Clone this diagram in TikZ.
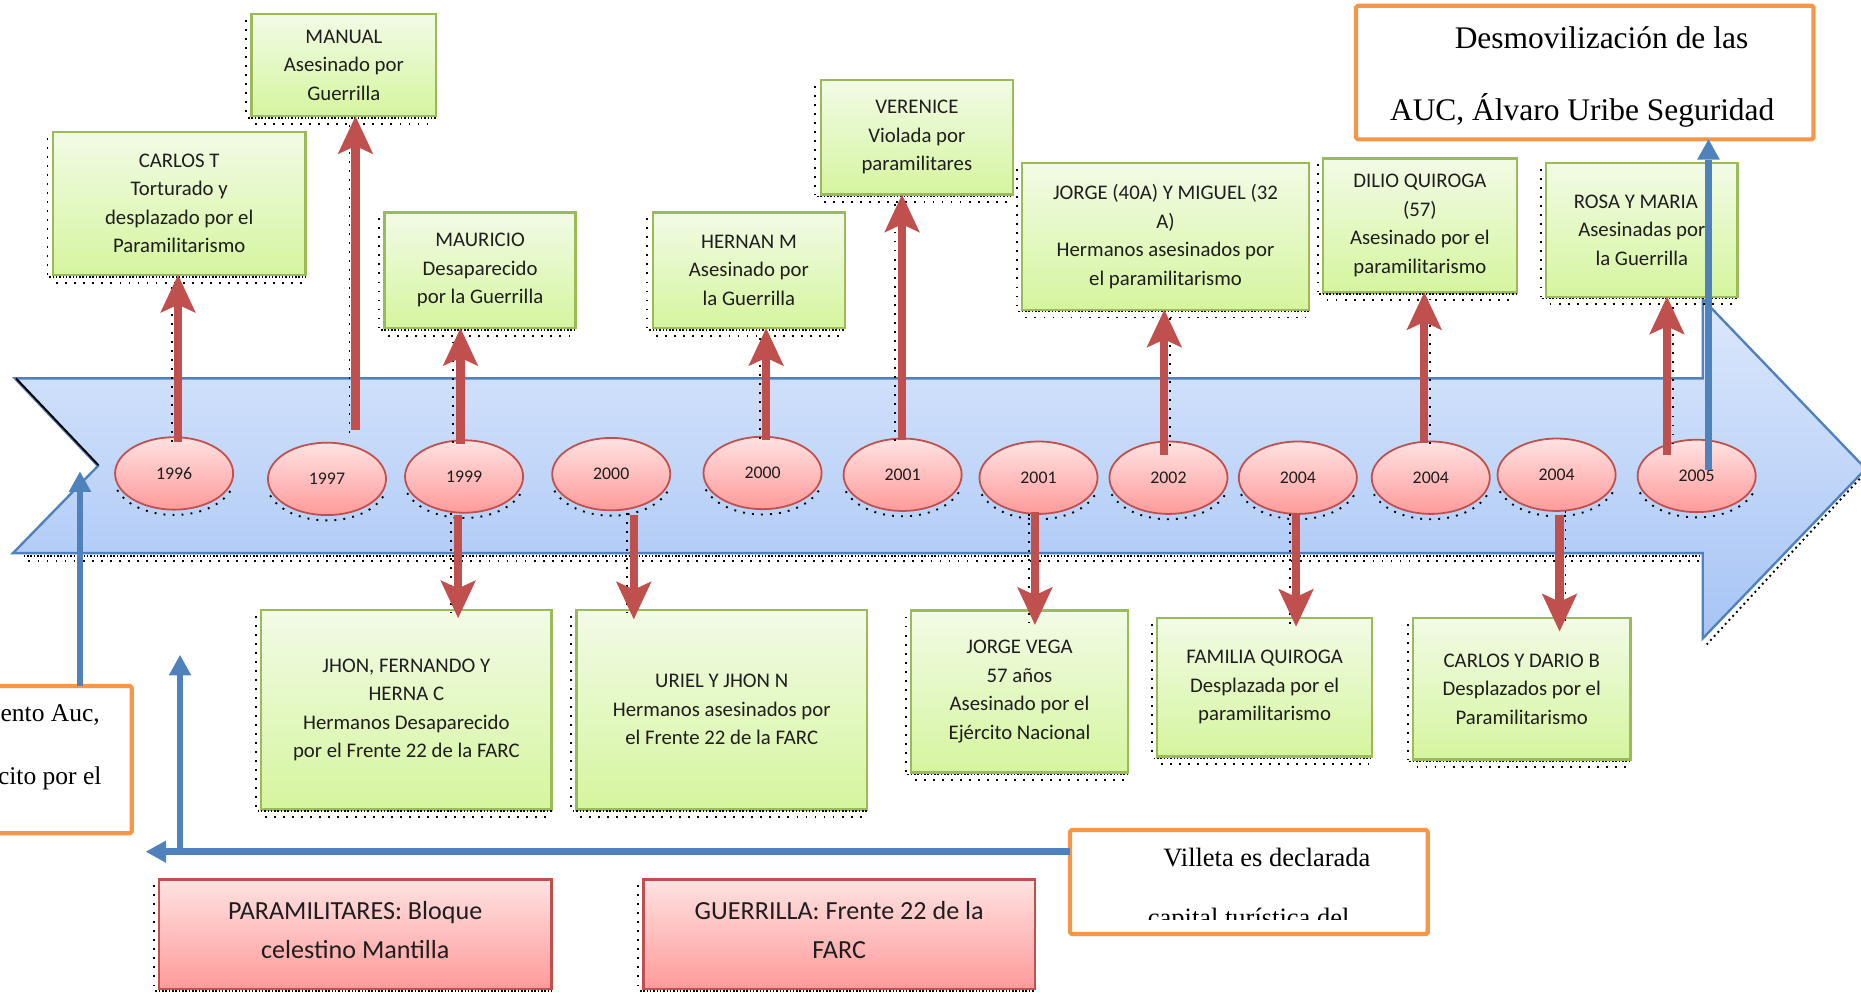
\documentclass[tikz,border=0pt]{standalone}
\usepackage{fontspec}
\setmainfont{Liberation Serif}
\newfontfamily\calib{Carlito}
\usetikzlibrary{arrows.meta,calc,shapes.geometric}
\definecolor{bandborder}{HTML}{4F81BD}
\definecolor{bandtop}{HTML}{DCE8FC}
\definecolor{bandbot}{HTML}{A6C4F5}
\definecolor{greenborder}{HTML}{9BBB59}
\definecolor{greentop}{HTML}{F2FBE6}
\definecolor{greenbot}{HTML}{D5F59E}
\definecolor{redborder}{HTML}{C0504D}
\definecolor{redtop}{HTML}{FFE2E2}
\definecolor{redbot}{HTML}{FF9A9A}
\definecolor{orangeborder}{HTML}{F79646}
\definecolor{arrowred}{HTML}{C0504D}
\definecolor{bluecon}{HTML}{4F81BD}
\definecolor{txt}{HTML}{1E1E1E}
\tikzset{
  wh/.style 2 args={minimum width=#1pt, minimum height=#2pt},
  gbox/.style={draw=greenborder, line width=2pt, top color=greentop, bottom color=greenbot, inner sep=0pt, outer sep=0pt, align=center, text=txt, font=\calib\fontsize{17.5}{24}\selectfont},
  rbox/.style={draw=redborder, line width=2pt, top color=redtop, bottom color=redbot, inner sep=0pt, outer sep=0pt, align=center, text=txt, font=\calib\fontsize{22}{33}\selectfont},
  obox/.style={draw=orangeborder, line width=3.5pt, fill=white, rounded corners=1.5pt, inner sep=0pt, outer sep=0pt},
  yearnode/.style={ellipse, draw=redborder, line width=1.5pt, top color=redtop, bottom color=redbot, minimum width=99.5pt, minimum height=61pt, inner sep=0pt, outer sep=0pt, font=\calib\fontsize{15}{15}\selectfont, text=txt},
  redarrow/.style={draw=arrowred, line width=7pt, -{Stealth[length=32pt,width=30pt,inset=7pt,line width=0pt]}},
  bluearrow/.style={draw=bluecon, line width=5.5pt, -{Triangle[length=17pt,width=19pt,line width=0pt]}},
  sparsedots/.style={draw=black, line width=1.6pt, dash pattern=on 1.6pt off 6pt},
  densedots/.style={draw=black, line width=1.3pt, dash pattern=on 1.3pt off 1.5pt},
  otext/.style={inner sep=0pt, text=black},
}
\newcommand{\boxshadow}[1]{%
  \draw[sparsedots] ([shift={(-4.5,-5)}]#1.north west) -- ([shift={(-4.5,0)}]#1.south west);
  \draw[densedots] ([shift={(-3,-1.5)}]#1.south west) -- ([shift={(0,-1.5)}]#1.south east);
  \draw[sparsedots] ([shift={(3,-6.5)}]#1.south west) -- ([shift={(-3,-6.5)}]#1.south east);
}
\begin{document}
\begin{tikzpicture}[x=1pt,y=1pt]
\useasboundingbox (0,0) rectangle (1568,838);
\clip (0,0) rectangle (1568,838);

% ---- timeline band ----
\draw[densedots] (20,369.5) -- (1432,369.5);
\draw[sparsedots] (24,365) -- (1432,365);
\draw[sparsedots, dash pattern=on 1.6pt off 3pt] (1570,438) -- (1438,295);
\path[draw=bandborder, line width=2pt, top color=bandtop, bottom color=bandbot]
  (12.5,519.2) -- (1434.6,519.2) -- (1434.6,586) -- (1572,443) -- (1434.6,300)
  -- (1434.6,372) -- (11,372) -- (82.5,445.4) -- cycle;
\draw[black, line width=1.6pt] (13.5,519.2) -- (83,446);

% ---- year ellipses ----
\node[yearnode] (e96)  at (146.7,439.1) {1996};
\node[yearnode] (e97)  at (275.5,434.5) {1997};
\node[yearnode] (e99)  at (391,436.5)   {1999};
\node[yearnode] (e00a) at (515,438.5)   {2000};
\node[yearnode] (e00b) at (642.5,439.5) {2000};
\node[yearnode] (e01a) at (760.5,438)   {2001};
\node[yearnode] (e01b) at (875,435.5)   {2001};
\node[yearnode] (e02)  at (984.5,435.5) {2002};
\node[yearnode] (e04a) at (1093.5,435.5) {2004};
\node[yearnode] (e04b) at (1205.5,435.5) {2004};
\node[yearnode] (e04c) at (1311.5,438)  {2004};
\node[yearnode] (e05)  at (1429.5,437)  {2005};
\foreach \n in {e96,e97,e99,e00a,e00b,e01a,e01b,e02,e04a,e04b,e04c,e05}{
  \draw[sparsedots] ($(\n.center)+(200:51pt and 32pt)+(0,-3)$) arc[start angle=200,end angle=340,x radius=51pt,y radius=32pt];
}

% ---- green event boxes (top) ----
\node[gbox, wh={213}{120.7}] (carlos) at (151,666.65) {CARLOS T\\Torturado y\\desplazado por el\\Paramilitarismo};
\node[gbox, wh={155.5}{86}] (manual) at (289.75,783) {MANUAL\\Asesinado por\\Guerrilla};
\node[gbox, wh={161}{97.5}] (mauricio) at (404.5,610.25) {MAURICIO\\Desaparecido\\por la Guerrilla};
\node[gbox, wh={162}{97.5}] (hernan) at (631,610.25) {HERNAN M\\Asesinado por\\la Guerrilla};
\node[gbox, wh={162}{96.6}] (verenice) at (772.5,722.3) {VERENICE\\Violada por\\paramilitares};
\node[gbox, wh={242}{123.4}] (jorge) at (982,638.7) {JORGE (40A) Y MIGUEL (32\\A)\\Hermanos asesinados por\\el paramilitarismo};
\node[gbox, wh={163.3}{112.9}] (dilio) at (1196.35,648.15) {DILIO QUIROGA\\(57)\\Asesinado por el\\paramilitarismo};
\node[gbox, wh={161.4}{112.4}] (rosa) at (1383.3,644.2) {ROSA Y MARIA\hspace*{10pt}\\Asesinadas por\\la Guerrilla};

% ---- green event boxes (bottom) ----
\node[gbox, wh={244.7}{168}] (jhon) at (342.35,240) {JHON, FERNANDO Y\\HERNA C\\Hermanos Desaparecido\\por el Frente 22 de la FARC};
\node[gbox, wh={244.8}{168}] (uriel) at (608.1,240) {URIEL Y JHON N\\Hermanos asesinados por\\el Frente 22 de la FARC};
\node[gbox, wh={182.8}{136.5}] (vega) at (859,255.25) {JORGE VEGA\\57 años\\Asesinado por el\\Ejército Nacional};
\node[gbox, wh={181}{116.7}] (familia) at (1065.5,258.85) {FAMILIA QUIROGA\\Desplazada por el\\paramilitarismo};
\node[gbox, wh={183.3}{119.2}] (cdario) at (1282.15,257.6) {CARLOS Y DARIO B\\Desplazados por el\\Paramilitarismo};

% ---- legend boxes ----
\node[rbox, wh={330.7}{92.6}] (param) at (299.35,50.8) {PARAMILITARES: Bloque\\celestino Mantilla\\[-26pt]};
\node[rbox, wh={329.7}{92.6}] (guerr) at (707.05,50.8) {GUERRILLA: Frente 22 de la\\FARC\\[-26pt]};

\foreach \b in {carlos,manual,mauricio,hernan,verenice,jorge,dilio,rosa,jhon,uriel,vega,familia,cdario,param,guerr}{
  \boxshadow{\b}
}

% ---- red connectors ----
\coordinate (a96) at (150,0);
\coordinate (a97) at (299.5,0);
\coordinate (a99u) at (388,0);
\coordinate (a00b) at (645.5,0);
\coordinate (a01a) at (760,0);
\coordinate (a02) at (981,0);
\coordinate (a04b) at (1200,0);
\coordinate (a05) at (1404.5,0);
\coordinate (a99d) at (386,0);
\coordinate (a00a) at (534,0);
\coordinate (a01b) at (872,0);
\coordinate (a04a) at (1092,0);
\coordinate (a04c) at (1314,0);

\draw[sparsedots] ($(a96 |- e96.north)+(-5,-4)$) -- ($(a96 |- carlos.south)+(-5,-6)$);
\draw[sparsedots] ($(a97 |- e97.north)+(-5,8)$) -- ($(a97 |- manual.south)+(-5,-6)$);
\draw[sparsedots] ($(a99u |- e99.north)+(-6,-2)$) -- ($(a99u |- mauricio.south)+(-6,-6)$);
\draw[sparsedots] ($(a00b |- e00b.north)+(-5,-2)$) -- ($(a00b |- hernan.south)+(-5,-6)$);
\draw[sparsedots] ($(a01a |- e01a.north)+(-6,-2)$) -- ($(a01a |- verenice.south)+(-6,-6)$);
\draw[sparsedots] ($(a02 |- e02.north)+(5,-4)$) -- ($(a02 |- jorge.south)+(5,-6)$);
\draw[sparsedots] ($(a04b |- e04b.north)+(5,-2)$) -- ($(a04b |- dilio.south)+(5,-6)$);
\draw[sparsedots] ($(a05 |- e05.north)+(5,-4)$) -- ($(a05 |- rosa.south)+(5,-6)$);
\draw[sparsedots] ($(a99d |- e99.south)+(-6,0)$) -- ($(a99d |- jhon.north)+(-6,-2)$);
\draw[sparsedots] ($(a00a |- e00a.south)+(-5.5,-2)$) -- ($(a00a |- uriel.north)+(-5.5,-2)$);
\draw[sparsedots] ($(a01b |- e01b.south)+(-5,0)$) -- ($(a01b |- vega.north)+(-5,-10)$);
\draw[sparsedots] ($(a04a |- e04a.south)+(-5,0)$) -- ($(a04a |- familia.north)+(-5,-6)$);
\draw[sparsedots] ($(a04c |- e04c.south)+(5,0)$) -- ($(a04c |- cdario.north)+(5,-8)$);

\draw[redarrow] ($(a96 |- e96.north)+(0,-3.6)$) -- (a96 |- carlos.south);
\draw[redarrow] ($(a97 |- e97.north)+(0,11)$) -- (a97 |- manual.south);
\draw[redarrow] ($(a99u |- e99.north)+(0,-3)$) -- (a99u |- mauricio.south);
\draw[redarrow] ($(a00b |- e00b.north)+(0,-3)$) -- (a00b |- hernan.south);
\draw[redarrow] ($(a01a |- e01a.north)+(0,-1.5)$) -- (a01a |- verenice.south);
\draw[redarrow] ($(a02 |- e02.north)+(0,-11)$) -- (a02 |- jorge.south);
\draw[redarrow] ($(a04b |- e04b.north)+(0,-1)$) -- (a04b |- dilio.south);
\draw[redarrow] ($(a05 |- e05.north)+(0,-12.5)$) -- (a05 |- rosa.south);
\draw[redarrow] ($(a99d |- e99.south)+(0,-2)$) -- ($(a99d |- jhon.north)+(0,-6.8)$);
\draw[redarrow] ($(a00a |- e00a.south)+(0,-4)$) -- ($(a00a |- uriel.north)+(0,-7.8)$);
\draw[redarrow] ($(a01b |- e01b.south)+(0,2)$) -- ($(a01b |- vega.north)+(0,-12)$);
\draw[redarrow] ($(a04a |- e04a.south)+(0,1)$) -- ($(a04a |- familia.north)+(0,-7.2)$);
\draw[redarrow] ($(a04c |- e04c.south)+(0,-3.5)$) -- ($(a04c |- cdario.north)+(0,-11.2)$);

% ---- orange text boxes ----
\node[obox, wh={385.5}{112.6}] (desmov) at (1335.25,776.9) {};
\node[otext, anchor=base west, font=\fontsize{26.5}{26.5}\selectfont] (dt1) at ([shift={(83,-35.9)}]desmov.north west) {Desmovilización de las};
\node[otext, anchor=base west, font=\fontsize{26.5}{26.5}\selectfont] (dt2) at ([shift={(28.5,-96.9)}]desmov.north west) {AUC, Álvaro Uribe Seguridad};

\node[obox, wh={131}{124}] (leftbox) at (45.5,198) {};
\node[otext, anchor=base east, font=\fontsize{21.5}{21.5}\selectfont] (lt1) at ([shift={(-26.7,-29.6)}]leftbox.north east) {ento Auc,};
\node[otext, anchor=base east, font=\fontsize{21.5}{21.5}\selectfont] (lt2) at ([shift={(-25.3,-82.8)}]leftbox.north east) {cito por el};

\node[obox, wh={301.5}{87.7}] (villeta) at (1052.25,94.85) {};
\node[otext, anchor=base west, font=\fontsize{22.3}{22.3}\selectfont] (vt1) at ([shift={(78.5,-30.7)}]villeta.north west) {Villeta es declarada};
\begin{scope}
  \clip (villeta.north west) rectangle ([yshift=-75.7pt]villeta.north east);
  \node[otext, anchor=base west, font=\fontsize{22.3}{22.3}\selectfont] (vt2) at ([shift={(65.5,-81.7)}]villeta.north west) {capital turística del};
\end{scope}

% ---- blue connectors ----
\coordinate (bl1top) at (67.4,440.6);
\draw[bluearrow] (leftbox.north -| bl1top) -- (bl1top);
\coordinate (vl) at (151.7,120.4);
\coordinate (vtip) at (151.7,286);
\coordinate (ltip) at (123,120.4);
\draw[bluearrow] (villeta.west |- vl) -- (vl) -- (vtip);
\draw[bluearrow] (vl) -- (ltip);
\coordinate (dstart) at (1439.5,442);
\draw[bluearrow] (dstart) -- (dstart |- desmov.south);
\end{tikzpicture}
\end{document}
